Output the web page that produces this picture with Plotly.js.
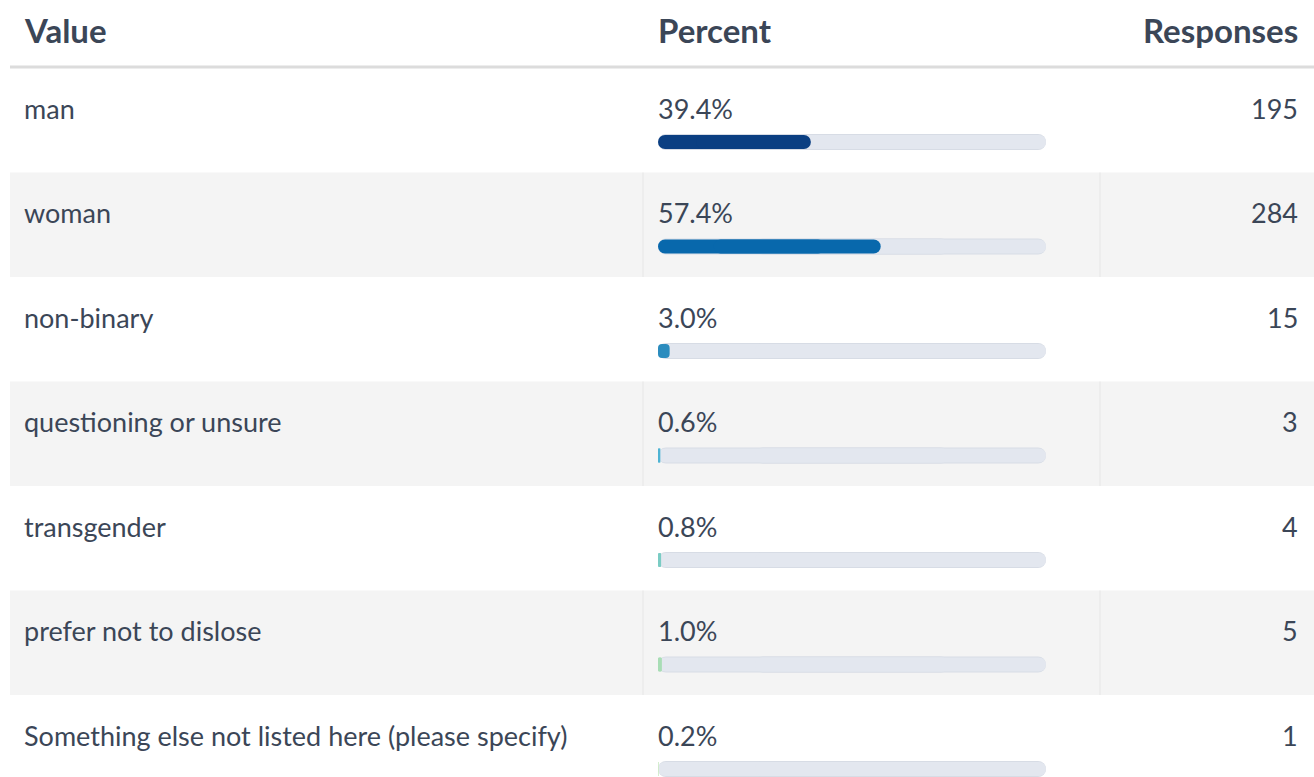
<!DOCTYPE html>
<html>
<head>
<meta charset="utf-8">
<script src="https://cdn.plot.ly/plotly-3.0.1.min.js"></script>
<style>
  html, body { margin: 0; padding: 0; background: #ffffff; }
  #chart { width: 1314px; height: 777px; }
</style>
</head>
<body>
<div id="chart"></div>
<script>
// ---- data ----
const headers = ["Value", "Percent", "Responses"];
const categories = [
  "man",
  "woman",
  "non-binary",
  "questioning or unsure",
  "transgender",
  "prefer not to dislose",
  "Something else not listed here (please specify)"
];
const percents = [39.4, 57.4, 3.0, 0.6, 0.8, 1.0, 0.2];
const responses = [195, 284, 15, 3, 4, 5, 1];
const barColors = ["#0b3f82", "#0868ac", "#2b8cbe", "#4eb3d3", "#7bccc4", "#a8ddb5", "#ccebc5"];
const trackMax = 100;

// ---- layout geometry (style) ----
const W = 1314, H = 777;
const ROW_H = 104.5;        // px per row
const ROW0_BAR = 142;       // px of first bar centre
const BAR_PX = 16;
const TEXT_SHIFT = 34;      // text sits above bar
const ROW_TOP_OFF = 74;     // bar centre minus row top
const FONT = "Lato, sans-serif";
const TXT = "#3b4657";

const idx = categories.map((_, i) => i);
const yMin = -ROW0_BAR / ROW_H;
const yMax = (H - ROW0_BAR) / ROW_H;

// each bar is drawn as two overlapping pieces, one growing left to 0 and one growing right
// to the value, so that both ends of the pill receive rounded corners
const SPLIT_A = 0.75, SPLIT_B = 0.25;
function pill(vals, color, widthPx) {
  const mk = { color: color, line: { width: 0 }, cornerradius: "50%" };
  const w = widthPx / ROW_H;
  return [
    { type: "bar", orientation: "h", base: vals.map(v => v * SPLIT_A), x: vals.map(v => -v * SPLIT_A), y: idx, width: w, marker: mk, hoverinfo: "skip", showlegend: false },
    { type: "bar", orientation: "h", base: vals.map(v => v * SPLIT_B), x: vals.map(v => v * (1 - SPLIT_B)), y: idx, width: w, marker: mk, hoverinfo: "skip", showlegend: false }
  ];
}
const trackVals = categories.map(() => trackMax);
const traces = [
  ...pill(trackVals, "#d7dce5", BAR_PX),
  ...pill(trackVals, "#e3e7ef", BAR_PX - 2),
  ...pill(percents, barColors, BAR_PX - 2)
];

const annotations = [];
const px = v => v / W;
const py = v => 1 - v / H;
const HF = { family: FONT, size: 33, color: TXT };
const BF = { family: FONT, size: 27, color: TXT };
// header
annotations.push({ text: "<b>" + headers[0] + "</b>", xref: "paper", yref: "paper", x: px(22), y: py(30), xanchor: "left", yanchor: "middle", showarrow: false, font: HF });
annotations.push({ text: "<b>" + headers[1] + "</b>", xref: "paper", yref: "paper", x: px(656), y: py(30), xanchor: "left", yanchor: "middle", showarrow: false, font: HF });
annotations.push({ text: "<b>" + headers[2] + "</b>", xref: "paper", yref: "paper", x: px(1300), y: py(30), xanchor: "right", yanchor: "middle", showarrow: false, font: HF });

categories.forEach((c, i) => {
  annotations.push({ text: c, xref: "paper", yref: "y", x: px(22), y: i, yshift: TEXT_SHIFT, xanchor: "left", yanchor: "middle", showarrow: false, font: BF });
  annotations.push({ text: percents[i].toFixed(1) + "%", xref: "paper", yref: "y", x: px(656), y: i, yshift: TEXT_SHIFT, xanchor: "left", yanchor: "middle", showarrow: false, font: BF });
  annotations.push({ text: String(responses[i]), xref: "paper", yref: "y", x: px(1300), y: i, yshift: TEXT_SHIFT, xanchor: "right", yanchor: "middle", showarrow: false, font: BF });
});

const shapes = [];
shapes.push({ type: "line", xref: "paper", yref: "paper", x0: px(10), x1: 1, y0: py(67), y1: py(67), line: { color: "#dcdcdc", width: 3 }, layer: "below" });
idx.forEach(i => {
  if (i % 2 === 1) {
    const y0 = i - ROW_TOP_OFF / ROW_H, y1 = i + (ROW_H - ROW_TOP_OFF) / ROW_H;
    shapes.push({ type: "rect", xref: "paper", yref: "y", x0: px(10), x1: 1, y0: y0, y1: y1, fillcolor: "#f4f4f4", line: { width: 0 }, layer: "below" });
    [643, 1100].forEach(xv => shapes.push({ type: "line", xref: "paper", yref: "y", x0: px(xv), x1: px(xv), y0: y0, y1: y1, line: { color: "#e6e6e6", width: 1 }, layer: "below" }));
  }
});

const layout = {
  width: W, height: H,
  margin: { l: 0, r: 0, t: 0, b: 0, pad: 0 },
  paper_bgcolor: "#ffffff", plot_bgcolor: "rgba(0,0,0,0)",
  barmode: "overlay",
  showlegend: false,
  xaxis: { domain: [px(658), px(1046)], range: [0, trackMax], visible: false, fixedrange: true },
  yaxis: { range: [yMax, yMin], visible: false, fixedrange: true },
  annotations: annotations,
  shapes: shapes
};

Plotly.newPlot("chart", traces, layout, { displayModeBar: false, staticPlot: true });
</script>
</body>
</html>
